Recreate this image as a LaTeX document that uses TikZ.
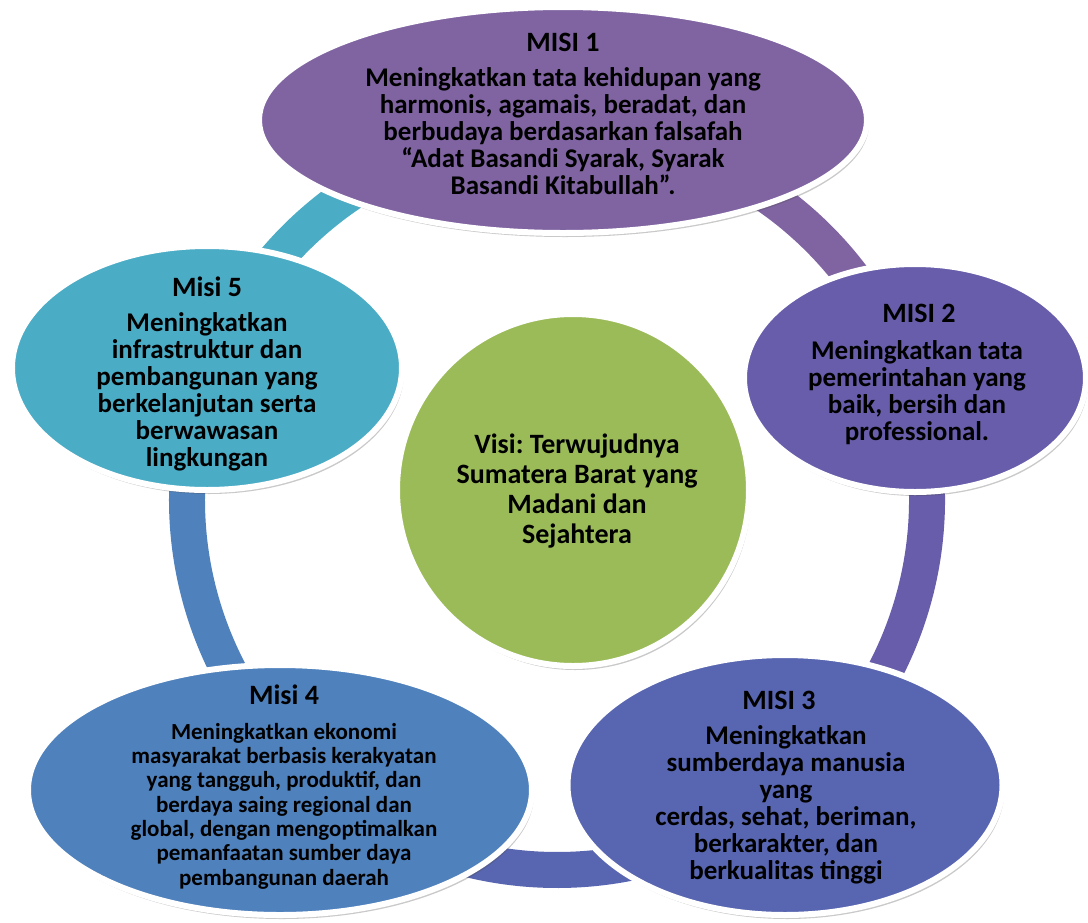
\documentclass[tikz,border=0pt]{standalone}
\usepackage{fontspec}
\setmainfont{Carlito}
\frenchspacing
\usetikzlibrary{shapes.geometric,shadows}
\definecolor{cTeal}{HTML}{4BACC6}
\definecolor{cPurple}{HTML}{8064A2}
\definecolor{cViolet}{HTML}{675DAA}
\definecolor{cIndigo}{HTML}{5865B0}
\definecolor{cBlue}{HTML}{4F81BD}
\definecolor{cGreen}{HTML}{9BBB59}
\begin{document}
\begin{tikzpicture}[x=1pt,y=-1pt,
  blob/.style={ellipse, draw=white, line width=6pt, inner sep=0pt,
    drop shadow={opacity=0.3, shadow xshift=2pt, shadow yshift=-4pt, fill=black!70}},
  ttl/.style={font=\bfseries\fontsize{28}{28}\selectfont, inner sep=0pt},
  body/.style={font=\bfseries\fontsize{27}{27}\selectfont, align=center, inner sep=0pt},
  ringseg/.style={line width=36pt}]
\useasboundingbox (0,0) rectangle (1088,922);
\coordinate (rc) at (557,500);
% ring
\draw[ringseg, cTeal]   (rc) ++(195:370) arc[start angle=195, end angle=272, radius=370];
\draw[ringseg, cPurple] (rc) ++(268:370) arc[start angle=268, end angle=343, radius=370];
\draw[ringseg, cViolet] (rc) ++(-20:370) arc[start angle=-20, end angle=53, radius=370];
\draw[ringseg, cIndigo] (rc) ++(50:370) arc[start angle=50, end angle=136, radius=370];
\draw[ringseg, cBlue]   (rc) ++(133:370) arc[start angle=133, end angle=200, radius=370];
% ellipses
\node[blob, fill=cPurple, minimum width=608pt, minimum height=226pt] (m1) at (563,120) {};
\node[blob, fill=cViolet, minimum width=342pt, minimum height=228pt] (m2) at (915,378) {};
\node[blob, fill=cIndigo, minimum width=435pt, minimum height=260pt] (m3) at (785,785) {};
\node[blob, fill=cBlue, minimum width=504pt, minimum height=250pt] (m4) at (280,790) {};
\node[blob, fill=cTeal, minimum width=390pt, minimum height=244pt] (m5) at (207,368) {};
\node[blob, circle, fill=cGreen, minimum size=352pt] (vc) at (573,490) {};
% texts
\node[ttl] (t1) at (563,42) {MISI 1};
\node[body] (b1) at (563,131) {Meningkatkan tata kehidupan yang\\harmonis, agamais, beradat, dan\\berbudaya berdasarkan falsafah\\“Adat Basandi Syarak, Syarak\\Basandi Kitabullah”.};
\node[ttl] (t2) at (919,313) {MISI 2};
\node[body] (b2) at (917,393) {Meningkatkan tata\\pemerintahan yang\\baik, bersih dan\\professional.};
\node[ttl] (t3) at (779,700) {MISI 3};
\node[body] (b3) at (786,805) {Meningkatkan\\sumberdaya manusia\\yang\\cerdas, sehat, beriman,\\berkarakter, dan\\berkualitas tinggi};
\node[ttl] (t4) at (284,695) {Misi 4};
\node[body, font=\bfseries\fontsize{23}{24.3}\selectfont] (b4) at (284,806) {Meningkatkan ekonomi\\masyarakat berbasis kerakyatan\\yang tangguh, produktif, dan\\berdaya saing regional dan\\global, dengan mengoptimalkan\\pemanfaatan sumber daya\\pembangunan daerah};
\node[ttl] (t5) at (207,287) {Misi 5};
\node[body] (b5) at (207,392) {Meningkatkan\\infrastruktur dan\\pembangunan yang\\berkelanjutan serta\\berwawasan\\lingkungan};
\node[body, font=\bfseries\fontsize{28}{30}\selectfont] (vt) at (577,491) {Visi: Terwujudnya\\Sumatera Barat yang\\Madani dan\\Sejahtera};
\end{tikzpicture}
\end{document}
